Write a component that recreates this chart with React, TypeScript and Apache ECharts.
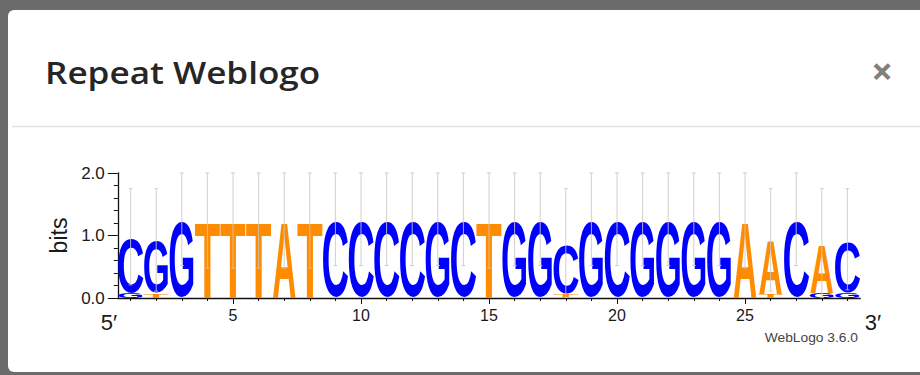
import React, { useEffect, useRef } from 'react';
import * as echarts from 'echarts';

// ---- data ----
const positions = [1, 2, 3, 4, 5, 6, 7, 8, 9, 10, 11, 12, 13, 14, 15, 16, 17, 18, 19, 20, 21, 22, 23, 24, 25, 26, 27, 28, 29];
const mainLetters = ['C', 'G', 'G', 'T', 'T', 'T', 'A', 'T', 'C', 'C', 'C', 'C', 'G', 'C', 'T', 'G', 'G', 'C', 'G', 'C', 'G', 'G', 'G', 'G', 'A', 'A', 'C', 'A', 'C'];
const mainHeights = [0.90, 0.86, 1.26, 1.24, 1.24, 1.24, 1.24, 1.24, 1.26, 1.26, 1.26, 1.26, 1.26, 1.26, 1.24, 1.26, 1.26, 0.81, 1.26, 1.26, 1.26, 1.26, 1.26, 1.26, 1.24, 0.86, 1.26, 0.79, 0.85];
const minorLetters = ['G', 'T', '', '', '', '', '', '', '', '', '', '', '', '', '', '', '', 'T', '', '', '', '', '', '', '', 'T', '', 'G', 'G'];
const minorHeights = [0.08, 0.07, 0, 0, 0, 0, 0, 0, 0, 0, 0, 0, 0, 0, 0, 0, 0, 0.07, 0, 0, 0, 0, 0, 0, 0, 0.07, 0, 0.09, 0.09];
const errorHalf = [0.77, 0.82, 0.74, 0.76, 0.76, 0.76, 0.76, 0.76, 0.74, 0.74, 0.74, 0.74, 0.74, 0.74, 0.76, 0.74, 0.74, 0.87, 0.74, 0.74, 0.74, 0.74, 0.74, 0.74, 0.76, 0.82, 0.74, 0.87, 0.81];
const xLabelEvery = 5;
const yTickValues = [0, 1, 2];

const letterColors: Record<string, string> = { A: '#ff8c00', T: '#ff8c00', C: '#0000ff', G: '#0000ff' };
// ink metrics of Liberation Sans Bold (em units)
const inkWidth: Record<string, number> = { A: 0.72, T: 0.57, C: 0.63, G: 0.69 };
const inkHeight: Record<string, number> = { A: 0.716, T: 0.716, C: 0.745, G: 0.745 };
const FS = 100;

export default function App() {
  const ref = useRef<HTMLDivElement>(null);
  useEffect(() => {
    if (!ref.current) return;
    const chart = echarts.init(ref.current, undefined, { renderer: 'svg' });
    const data = positions.map((p, i) => [i, minorHeights[i], mainHeights[i], errorHalf[i]]);

    const renderItem = (params: any, api: any) => {
      const i = params.dataIndex;
      const base = api.coord([api.value(0), 0]);
      const bandW = api.size([1, 0])[0];
      const pxPerBit = api.size([0, 1])[1];
      const children: any[] = [];
      const stack: [string, number][] = [
        [minorLetters[i], minorHeights[i]],
        [mainLetters[i], mainHeights[i]],
      ];
      let y0 = 0;
      for (const [letter, h] of stack) {
        if (!letter || h <= 0) continue;
        const yBot = base[1] - y0 * pxPerBit;
        const yTop = base[1] - (y0 + h) * pxPerBit;
        const hPx = yBot - yTop;
        const w = bandW * 0.94;
        const sY = hPx / (inkHeight[letter] * FS);
        const sX = w / (inkWidth[letter] * FS);
        children.push({
          type: 'text',
          x: base[0],
          y: (yTop + yBot) / 2 + 0.0115 * FS * sY,
          scaleX: sX,
          scaleY: sY,
          style: {
            text: letter,
            fill: letterColors[letter],
            font: `bold ${FS}px "Liberation Sans", Arial, sans-serif`,
            align: 'center',
            verticalAlign: 'middle',
          },
        });
        y0 += h;
      }
      const top = y0;
      const e = errorHalf[i];
      const yHi = api.coord([api.value(0), top + e])[1];
      const yLo = api.coord([api.value(0), Math.max(0, top - e)])[1];
      const lineStyle = { stroke: 'rgba(200,200,200,0.85)', lineWidth: 1 };
      children.push({ type: 'line', shape: { x1: base[0], y1: yLo, x2: base[0], y2: yHi }, style: lineStyle });
      children.push({ type: 'line', shape: { x1: base[0] - 2, y1: yHi, x2: base[0] + 2, y2: yHi }, style: lineStyle });
      children.push({ type: 'line', shape: { x1: base[0] - 2, y1: yLo, x2: base[0] + 2, y2: yLo }, style: lineStyle });
      return { type: 'group', children };
    };

    const axisFont = { fontFamily: '"Liberation Sans", Arial, sans-serif', color: '#1a1a1a' };

    chart.setOption({
      animation: false,
      backgroundColor: 'transparent',
      grid: { left: 117.8, top: 173, width: 742.4, height: 125, containLabel: false },
      xAxis: [
        {
          type: 'category',
          data: positions.map(String),
          boundaryGap: true,
          axisLine: { show: true, lineStyle: { color: '#111', width: 1.3 } },
          axisTick: { show: true, alignWithLabel: true, interval: 0, length: 3, lineStyle: { color: '#111' } },
          axisLabel: {
            interval: 0,
            margin: 9,
            fontSize: 16,
            ...axisFont,
            formatter: (v: string) => (Number(v) % xLabelEvery === 0 ? v : ''),
          },
          splitLine: { show: false },
        },
        {
          type: 'category',
          data: positions.map(String),
          position: 'bottom',
          boundaryGap: true,
          axisLine: { show: false },
          axisTick: {
            show: true,
            alignWithLabel: true,
            interval: (idx: number) => (idx + 1) % xLabelEvery === 0,
            length: 6,
            lineStyle: { color: '#111' },
          },
          axisLabel: { show: false },
          splitLine: { show: false },
        },
      ],
      yAxis: {
        type: 'value',
        min: yTickValues[0],
        max: yTickValues[yTickValues.length - 1],
        interval: 1,
        name: 'bits',
        nameLocation: 'middle',
        nameRotate: 90,
        nameGap: 40,
        nameTextStyle: { fontSize: 23, ...axisFont },
        axisLine: { show: true, lineStyle: { color: '#111', width: 1.3 } },
        axisTick: { show: true, length: 10, lineStyle: { color: '#111' } },
        minorTick: { show: true, splitNumber: 5, length: 4, lineStyle: { color: '#111' } },
        axisLabel: { fontSize: 17, margin: 13, ...axisFont, formatter: (v: number) => v.toFixed(1) },
        splitLine: { show: false },
      },
      series: [
        {
          type: 'custom',
          xAxisIndex: 0,
          yAxisIndex: 0,
          clip: false,
          renderItem,
          encode: { x: 0, y: 2 },
          data,
          z: 5,
        },
      ],
      graphic: [
        {
          type: 'line',
          shape: { x1: 12, y1: 126.5, x2: 920, y2: 126.5 },
          style: { stroke: '#e2e2e2', lineWidth: 1.5 },
        },
        {
          type: 'text',
          x: 45,
          y: 73,
          scaleX: 1.17,
          style: {
            text: 'Repeat Weblogo',
            font: '600 30px "Open Sans", "Noto Sans", sans-serif',
            fill: '#262626',
            align: 'left',
            verticalAlign: 'middle',
          },
        },
        {
          type: 'text',
          x: 882,
          y: 70,
          style: {
            text: '×',
            font: 'bold 38px "Open Sans", sans-serif',
            fill: '#808080',
            align: 'center',
            verticalAlign: 'middle',
          },
        },
        {
          type: 'text',
          x: 109,
          y: 322,
          style: { text: '5′', font: '22px "Liberation Sans", Arial, sans-serif', fill: '#1a1a1a', align: 'center', verticalAlign: 'middle' },
        },
        {
          type: 'text',
          x: 873,
          y: 322,
          style: { text: '3′', font: '22px "Liberation Sans", Arial, sans-serif', fill: '#1a1a1a', align: 'center', verticalAlign: 'middle' },
        },
        {
          type: 'text',
          x: 858,
          y: 338,
          scaleX: 1.15,
          style: { text: 'WebLogo 3.6.0', font: '12px "Liberation Sans", Arial, sans-serif', fill: '#444', align: 'right', verticalAlign: 'middle' },
        },
      ],
    });
    return () => chart.dispose();
  }, []);

  return (
    <div style={{ position: 'fixed', left: 0, top: 0, width: 920, height: 375, background: '#6c6c6c', overflow: 'hidden' }}>
      <div style={{ position: 'absolute', left: 8, top: 10, width: 940, height: 362, background: '#fff', borderRadius: 6 }} />
      <div ref={ref} style={{ position: 'absolute', left: 0, top: 0, width: 920, height: 375 }} />
    </div>
  );
}
